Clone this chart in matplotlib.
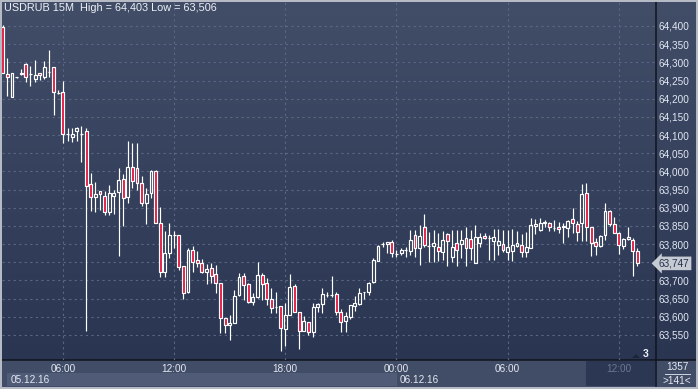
import numpy as np
import matplotlib.pyplot as plt
import matplotlib.transforms as mtransforms
from matplotlib.patches import Rectangle, Polygon
from matplotlib.collections import LineCollection

plt.rcParams['font.family'] = ['Liberation Sans', 'DejaVu Sans']

# USDRUB 15M candles, 05.12.16 02:45 .. 06.12.16 13:00
opens = [64.398, 64.267, 64.206, 64.259, 64.268, 64.295, 64.267, 64.254, 64.270, 64.259,
         64.274, 64.286, 64.216, 64.218, 64.102, 64.094, 64.111, 64.103, 64.110, 63.965,
         63.929, 63.946, 63.932, 63.887, 63.933, 63.944, 63.978, 63.930, 64.011, 64.009,
         63.969, 63.914, 63.940, 64.001, 63.857, 63.724, 63.776, 63.825, 63.825, 63.740,
         63.669, 63.784, 63.756, 63.747, 63.724, 63.733, 63.718, 63.692, 63.596, 63.577,
         63.582, 63.660, 63.713, 63.690, 63.640, 63.654, 63.715, 63.692, 63.649, 63.628,
         63.630, 63.566, 63.605, 63.685, 63.612, 63.562, 63.585, 63.557, 63.626, 63.634,
         63.660, 63.660, 63.662, 63.612, 63.589, 63.600, 63.630, 63.634, 63.667, 63.667,
         63.695, 63.754, 63.800, 63.800, 63.806, 63.773, 63.776, 63.784, 63.782, 63.825,
         63.788, 63.846, 63.796, 63.795, 63.791, 63.779, 63.828, 63.765, 63.804, 63.800,
         63.816, 63.813, 63.747, 63.804, 63.823, 63.816, 63.809, 63.798, 63.800, 63.779,
         63.781, 63.795, 63.797, 63.779, 63.788, 63.850, 63.839, 63.857, 63.857, 63.843,
         63.846, 63.846, 63.843, 63.868, 63.855, 63.858, 63.940, 63.846, 63.806, 63.795,
         63.825, 63.891, 63.855, 63.831, 63.796, 63.813, 63.811, 63.782]
highs = [64.403, 64.313, 64.271, 64.260, 64.283, 64.299, 64.291, 64.306, 64.271, 64.303,
         64.334, 64.287, 64.224, 64.250, 64.119, 64.119, 64.123, 64.125, 64.119, 63.995,
         63.970, 63.946, 63.947, 63.963, 63.949, 64.009, 63.993, 64.084, 64.079, 64.079,
         63.987, 63.953, 64.004, 64.004, 63.903, 63.836, 63.857, 63.836, 63.825, 63.740,
         63.788, 63.795, 63.781, 63.758, 63.745, 63.747, 63.743, 63.694, 63.596, 63.605,
         63.674, 63.721, 63.721, 63.692, 63.666, 63.752, 63.721, 63.706, 63.678, 63.667,
         63.630, 63.637, 63.718, 63.690, 63.612, 63.602, 63.585, 63.637, 63.637, 63.678,
         63.667, 63.712, 63.669, 63.621, 63.614, 63.632, 63.657, 63.678, 63.667, 63.697,
         63.761, 63.798, 63.807, 63.807, 63.811, 63.784, 63.788, 63.793, 63.839, 63.839,
         63.853, 63.883, 63.833, 63.839, 63.830, 63.837, 63.830, 63.839, 63.839, 63.839,
         63.848, 63.839, 63.853, 63.830, 63.830, 63.825, 63.841, 63.841, 63.839, 63.839,
         63.841, 63.837, 63.828, 63.834, 63.871, 63.868, 63.871, 63.865, 63.862, 63.865,
         63.862, 63.857, 63.866, 63.898, 63.864, 63.965, 63.969, 63.846, 63.816, 63.825,
         63.913, 63.894, 63.875, 63.834, 63.816, 63.848, 63.818, 63.788]
lows = [64.270, 64.207, 64.205, 64.258, 64.266, 64.247, 64.236, 64.247, 64.251, 64.254,
        64.261, 64.156, 64.213, 64.079, 64.084, 64.082, 64.084, 64.027, 63.562, 63.892,
        63.889, 63.894, 63.880, 63.880, 63.883, 63.767, 63.850, 63.914, 63.953, 63.949,
        63.905, 63.855, 63.926, 63.857, 63.709, 63.709, 63.761, 63.788, 63.729, 63.648,
        63.666, 63.724, 63.738, 63.721, 63.690, 63.692, 63.666, 63.555, 63.555, 63.536,
        63.582, 63.657, 63.646, 63.639, 63.632, 63.651, 63.646, 63.632, 63.611, 63.611,
        63.506, 63.520, 63.605, 63.614, 63.511, 63.562, 63.550, 63.545, 63.614, 63.611,
        63.654, 63.655, 63.605, 63.559, 63.559, 63.594, 63.617, 63.632, 63.649, 63.660,
        63.692, 63.754, 63.791, 63.775, 63.764, 63.765, 63.770, 63.765, 63.770, 63.764,
        63.743, 63.793, 63.752, 63.752, 63.754, 63.756, 63.740, 63.752, 63.740, 63.761,
        63.740, 63.756, 63.747, 63.793, 63.813, 63.756, 63.756, 63.770, 63.779, 63.756,
        63.754, 63.793, 63.765, 63.764, 63.788, 63.828, 63.837, 63.848, 63.837, 63.836,
        63.830, 63.804, 63.819, 63.831, 63.809, 63.809, 63.809, 63.766, 63.769, 63.793,
        63.811, 63.849, 63.830, 63.774, 63.787, 63.812, 63.712, 63.741]
closes = [64.270, 64.259, 64.270, 64.259, 64.270, 64.259, 64.267, 64.265, 64.264, 64.286,
          64.274, 64.218, 64.216, 64.102, 64.102, 64.102, 64.119, 64.103, 63.961, 63.930,
          63.938, 63.938, 63.889, 63.940, 63.940, 63.976, 63.928, 64.011, 63.974, 63.967,
          63.914, 63.938, 64.001, 63.857, 63.724, 63.775, 63.825, 63.825, 63.738, 63.666,
          63.784, 63.752, 63.749, 63.724, 63.731, 63.713, 63.692, 63.596, 63.577, 63.584,
          63.657, 63.710, 63.687, 63.640, 63.655, 63.715, 63.690, 63.648, 63.623, 63.628,
          63.568, 63.605, 63.681, 63.614, 63.562, 63.588, 63.559, 63.626, 63.634, 63.662,
          63.660, 63.660, 63.612, 63.587, 63.602, 63.632, 63.637, 63.665, 63.667, 63.692,
          63.756, 63.795, 63.800, 63.806, 63.775, 63.773, 63.784, 63.784, 63.811, 63.788,
          63.822, 63.798, 63.796, 63.802, 63.781, 63.811, 63.809, 63.791, 63.784, 63.811,
          63.788, 63.788, 63.819, 63.819, 63.816, 63.816, 63.819, 63.809, 63.784, 63.793,
          63.798, 63.802, 63.779, 63.793, 63.853, 63.855, 63.857, 63.860, 63.848, 63.843,
          63.841, 63.850, 63.864, 63.857, 63.833, 63.938, 63.848, 63.802, 63.796, 63.822,
          63.891, 63.854, 63.831, 63.798, 63.813, 63.820, 63.781, 63.747]

time_ticks = [13, 37, 61, 85, 109, 133]
time_labels = ['06:00', '12:00', '18:00', '00:00', '06:00', '12:00']
price_ticks = [63.55, 63.60, 63.65, 63.70, 63.75, 63.80, 63.85, 63.90, 63.95,
               64.00, 64.05, 64.10, 64.15, 64.20, 64.25, 64.30, 64.35, 64.40]

W, H = 698, 389
fig = plt.figure(figsize=(W / 100, H / 100), dpi=100)

# background layer in pixel coordinates
bg = fig.add_axes([0, 0, 1, 1])
bg.set_xlim(0, W)
bg.set_ylim(H, 0)
bg.axis('off')
top_c = np.array([0x42, 0x4e, 0x68]) / 255
bot_c = np.array([0x2a, 0x35, 0x52]) / 255
t = np.linspace(0, 1, 256)[:, None]
grad = (top_c[None, :] * (1 - t) + bot_c[None, :] * t)[:, None, :]
bg.imshow(grad, extent=(0, W, 360, 0), aspect='auto', zorder=0)
bg.add_patch(Rectangle((0, 360), W, 29, fc='#414c66', ec='none', zorder=1))
bg.add_patch(Rectangle((7, 373), 390, 13, fc='#505c77', ec='none', zorder=1))
bg.add_patch(Rectangle((586, 361), 69, 25, fc='#2c3753', ec='none', zorder=1))
bg.plot([0, W], [360, 360], color='#10141c', lw=1.1, zorder=2)
bg.plot([655.5, 655.5], [0, 386], color='#10141c', lw=1.1, zorder=2)
bg.add_patch(Rectangle((0.8, 0.8), W - 1.6, H - 1.6, fc='none', ec='#b9bec8', lw=1.4, zorder=5))
bg.text(11, 380, '05.12.16', color='#e4e9f2', fontsize=7.2, va='center', ha='left', zorder=3)
bg.text(400, 380, '06.12.16', color='#e4e9f2', fontsize=7.2, va='center', ha='left', zorder=3)
bg.text(677, 367, '1357', color='#e4e9f2', fontsize=7.2, va='center', ha='center', zorder=3)
bg.plot([665, 690], [374, 374], color='#d0d6e0', lw=0.7, zorder=3)
bg.text(677, 381, '>141<', color='#e4e9f2', fontsize=7.2, va='center', ha='center', zorder=3)
bg.add_patch(Polygon([[632, 358], [636, 354], [640, 358]], fc='#1c2438', ec='none', zorder=3))
bg.text(643, 354, '3', color='#f0f3f8', fontsize=7.5, fontweight='bold', va='center', ha='left', zorder=3)

# main chart
ax = fig.add_axes([2 / W, 29 / H, 653 / W, 358 / H])
ax.set_facecolor('none')
ax.set_xlim(-0.15, 140.8)
ax.set_ylim(63.4812, 64.466)
for s in ax.spines.values():
    s.set_visible(False)

ax.set_yticks(price_ticks)
ax.set_yticklabels([f'{v:.3f}'.replace('.', ',') for v in price_ticks])
ax.yaxis.tick_right()
ax.tick_params(axis='y', length=0, pad=2.5, labelsize=7.2, labelcolor='#e1e7f2')
ax.set_xticks(time_ticks)
ax.set_xticklabels(time_labels)
ax.tick_params(axis='x', length=0, pad=3, labelsize=7.2, labelcolor='#e4e9f2')
ax.get_xticklabels()[-1].set_color('#6b7791')
ax.grid(True, color='#5b6884', lw=0.8, linestyle=(0, (2, 3)))
ax.set_axisbelow(True)

w = 0.62
segs = []
for i, (o, h, l, c) in enumerate(zip(opens, highs, lows, closes)):
    top, bot = max(o, c), min(o, c)
    if h > top:
        segs.append([(i, top), (i, h)])
    if l < bot:
        segs.append([(i, l), (i, bot)])
    fc = '#e0163e' if c < o else 'none'
    ax.add_patch(Rectangle((i - w / 2, bot), w, top - bot, fc=fc, ec='white', lw=0.85, zorder=3))
ax.add_collection(LineCollection(segs, colors='white', linewidths=0.85, zorder=2))

# last price marker
trans = mtransforms.blended_transform_factory(ax.transAxes, ax.transData)
ax.text(1.006, closes[-1], f'{closes[-1]:.3f}'.replace('.', ','), transform=trans,
        fontsize=7.2, color='#27304a', va='center', ha='left', zorder=6, clip_on=False,
        bbox=dict(boxstyle='larrow,pad=0.18', fc='#c6cad3', ec='none'))

fig.text(4 / W, 1 - 8 / H, 'USDRUB 15M  High = 64,403 Low = 63,506', color='#eef1f7',
         fontsize=7.8, va='center', ha='left')

fig.savefig('out.png', dpi=100)
